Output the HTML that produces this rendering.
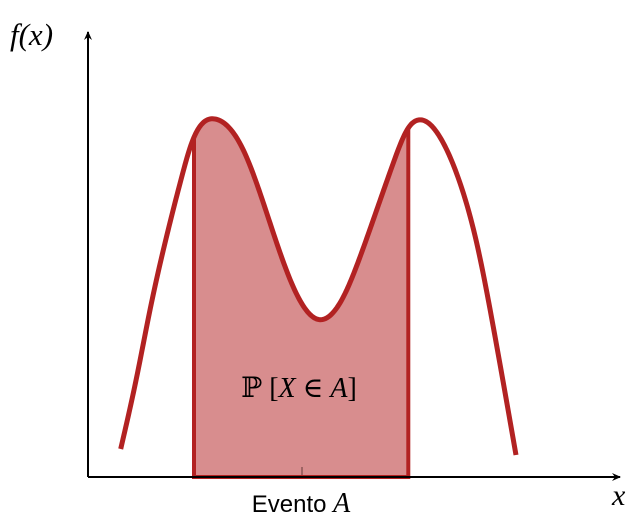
<!DOCTYPE html>
<html><head><meta charset="utf-8"><style>
html,body{margin:0;padding:0;background:#fff;}
svg{display:block}
</style></head><body>
<svg id="chart" width="642" height="521" viewBox="0 0 642 521" xmlns="http://www.w3.org/2000/svg">
<defs><marker id="arr" markerWidth="10" markerHeight="10" refX="8" refY="5" orient="auto" markerUnits="userSpaceOnUse"><path d="M0,1 L9,5 L0,9 L3,5 Z" fill="#000"/></marker></defs>
<g id="fillg"></g>
<line x1="88" y1="477" x2="620" y2="477" stroke="#000" stroke-width="2" marker-end="url(#arr)"/>
<line x1="88" y1="477" x2="88" y2="32" stroke="#000" stroke-width="2" marker-end="url(#arr)"/>
<g id="lineg"></g>
<text x="10" y="45" font-family="Liberation Serif, serif" font-style="italic" font-size="31">f(x)</text>
<text x="612" y="505" font-family="Liberation Serif, serif" font-style="italic" font-size="30">x</text>
<text x="299" y="397" text-anchor="middle" font-family="Liberation Serif, DejaVu Serif, serif" font-size="28">ℙ [<tspan font-style="italic">X</tspan> ∈ <tspan font-style="italic">A</tspan>]</text>
<text x="301" y="512" text-anchor="middle" font-family="Liberation Sans, sans-serif" font-size="24">Evento <tspan font-family="Liberation Serif, serif" font-style="italic" font-size="28">A</tspan></text>
</svg>
<script>
const xValues = [3.27, 4.87, 6.20, 7.70, 9.37, 10.37, 12.70, 15.53, 17.20, 18.87, 20.53, 22.87, 25.53, 27.20, 28.87, 30.53, 32.03, 33.03, 35.53, 37.20, 38.87, 40.53, 42.80];
const yValues = [0.28, 1.00, 1.67, 2.34, 3.00, 3.34, 3.58, 3.27, 2.84, 2.34, 1.90, 1.58, 1.80, 2.20, 2.67, 3.14, 3.49, 3.57, 3.34, 2.94, 2.34, 1.50, 0.22];
const eventRange = [10.6, 32.03];
const tickValues = [21.4];

const NS = 'http://www.w3.org/2000/svg';
const xScale = v => 88 + v * 10;
const yScale = v => 477 - v * 100;

function spline(xs, ys) {
  const n = xs.length, h = [], a = [], l = [1], mu = [0], z = [0], c = new Array(n).fill(0), b = [], d = [];
  for (let i = 0; i < n - 1; i++) h.push(xs[i + 1] - xs[i]);
  for (let i = 1; i < n - 1; i++) a[i] = 3 / h[i] * (ys[i + 1] - ys[i]) - 3 / h[i - 1] * (ys[i] - ys[i - 1]);
  for (let i = 1; i < n - 1; i++) {
    l[i] = 2 * (xs[i + 1] - xs[i - 1]) - h[i - 1] * mu[i - 1];
    mu[i] = h[i] / l[i];
    z[i] = (a[i] - h[i - 1] * z[i - 1]) / l[i];
  }
  for (let j = n - 2; j >= 0; j--) {
    c[j] = (j === 0 ? 0 : z[j]) - mu[j] * c[j + 1];
    b[j] = (ys[j + 1] - ys[j]) / h[j] - h[j] * (c[j + 1] + 2 * c[j]) / 3;
    d[j] = (c[j + 1] - c[j]) / (3 * h[j]);
  }
  return x => {
    let i = 0;
    while (i < n - 2 && x > xs[i + 1]) i++;
    const dx = x - xs[i];
    return ys[i] + b[i] * dx + c[i] * dx * dx + d[i] * dx * dx * dx;
  };
}
const f = spline(xValues, yValues);
const x0 = xValues[0], x1 = xValues[xValues.length - 1];
const curve = [];
for (let k = 0; k <= 400; k++) { const x = x0 + (x1 - x0) * k / 400; curve.push([x, f(x)]); }

let d = 'M' + xScale(eventRange[0]) + ',' + yScale(0) + ' L' + xScale(eventRange[0]) + ',' + yScale(f(eventRange[0])).toFixed(2);
curve.filter(p => p[0] > eventRange[0] && p[0] < eventRange[1]).forEach(p => { d += ' L' + xScale(p[0]).toFixed(2) + ',' + yScale(p[1]).toFixed(2); });
d += ' L' + xScale(eventRange[1]) + ',' + yScale(f(eventRange[1])).toFixed(2) + ' L' + xScale(eventRange[1]) + ',' + yScale(0) + ' Z';
const area = document.createElementNS(NS, 'path');
area.setAttribute('d', d);
area.setAttribute('fill', '#d88d8e');
area.setAttribute('stroke', '#b22222');
area.setAttribute('stroke-width', '4');


document.getElementById('fillg').appendChild(area);

tickValues.forEach(v => {
  const t = document.createElementNS(NS, 'line');
  t.setAttribute('x1', xScale(v)); t.setAttribute('x2', xScale(v));
  t.setAttribute('y1', 467); t.setAttribute('y2', 475);
  t.setAttribute('stroke', '#8a5555'); t.setAttribute('stroke-width', '1.5');
  
  
  document.getElementById('fillg').appendChild(t);
});

const line = document.createElementNS(NS, 'path');
line.setAttribute('d', 'M' + curve.map(p => xScale(p[0]).toFixed(2) + ',' + yScale(p[1]).toFixed(2)).join(' L'));
line.setAttribute('fill', 'none');
line.setAttribute('stroke', '#b22222');
line.setAttribute('stroke-width', '5');


document.getElementById('lineg').appendChild(line);
</script>
</body></html>
